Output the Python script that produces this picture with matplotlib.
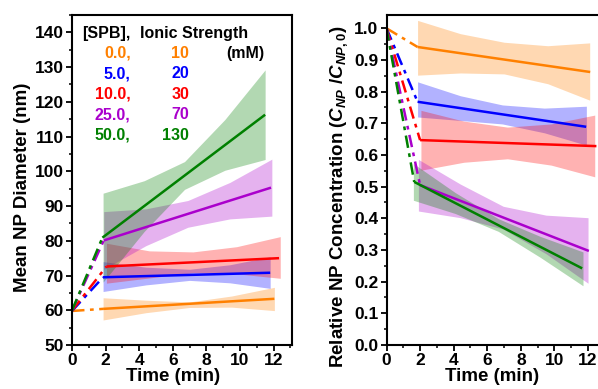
import matplotlib
matplotlib.use("Agg")
import matplotlib.pyplot as plt
from matplotlib.ticker import MultipleLocator

plt.rcParams['font.family'] = ['Liberation Sans', 'DejaVu Sans']
plt.rcParams['font.weight'] = 'bold'
plt.rcParams['axes.labelweight'] = 'bold'
plt.rcParams['mathtext.fontset'] = 'custom'
plt.rcParams['mathtext.rm'] = 'Liberation Sans:bold'
plt.rcParams['mathtext.it'] = 'Liberation Sans:bold:italic'
plt.rcParams['mathtext.bf'] = 'Liberation Sans:bold'

# legend / series info
spb = ['0.0,', '5.0,', '10.0,', '25.0,', '50.0,']
ionic = ['10', '20', '30', '70', '130']
colors = ['#FF8000', '#0000FF', '#FF0000', '#AA00CC', '#008000']

# ---- left panel: mean NP diameter (nm) ----
dia_start = [59.8, 59.8, 59.9, 59.9, 59.9]
dia_fit_t = [[1.85, 12.05], [1.85, 11.8], [2.05, 12.33], [1.89, 11.85], [1.81, 11.5]]
dia_fit_y = [[60.4, 63.3], [69.5, 70.8], [72.6, 75.0], [80.1, 95.3], [80.9, 116.3]]
dia_band_t = [[1.85, 4.4, 7.0, 9.5, 12.05],
              [1.85, 4.4, 7.0, 9.4, 11.8],
              [2.05, 4.6, 7.2, 9.8, 12.4],
              [1.89, 4.4, 6.9, 9.4, 11.9],
              [1.85, 4.3, 6.7, 9.1, 11.5]]
dia_band_lo = [[57.2, 59.3, 60.8, 60.9, 59.9],
               [65.4, 67.3, 68.6, 67.9, 66.3],
               [67.8, 69.3, 70.8, 70.5, 69.2],
               [71.8, 78.6, 83.9, 86.3, 87.1],
               [68.1, 82.7, 94.8, 100.3, 103.4]]
dia_band_hi = [[63.6, 62.9, 62.4, 64.1, 66.6],
               [74.0, 72.4, 71.8, 73.1, 75.4],
               [79.3, 77.1, 76.8, 78.3, 81.2],
               [88.4, 89.2, 91.6, 96.8, 103.5],
               [93.7, 97.3, 102.8, 114.9, 129.2]]

# ---- right panel: relative NP concentration ----
conc_start = [1.0, 1.0, 1.0, 1.0, 1.0]
conc_fit_t = [[1.85, 12.13], [1.85, 11.89], [2.0, 12.5], [2.0, 12.05], [1.65, 11.65]]
conc_fit_y = [[0.941, 0.862], [0.768, 0.689], [0.647, 0.628], [0.505, 0.297], [0.515, 0.242]]
conc_band_t = [[1.85, 4.4, 7.0, 9.6, 12.1],
               [1.85, 4.4, 6.9, 9.4, 11.9],
               [2.05, 4.6, 7.2, 9.8, 12.4],
               [1.9, 4.4, 6.95, 9.5, 12.0],
               [1.6, 4.1, 6.65, 9.15, 11.7]]
conc_band_lo = [[0.852, 0.859, 0.856, 0.825, 0.773],
                [0.720, 0.709, 0.698, 0.670, 0.631],
                [0.552, 0.577, 0.588, 0.568, 0.531],
                [0.423, 0.402, 0.366, 0.288, 0.195],
                [0.457, 0.415, 0.359, 0.277, 0.187]]
conc_band_hi = [[1.025, 0.983, 0.956, 0.945, 0.954],
                [0.831, 0.787, 0.758, 0.748, 0.754],
                [0.741, 0.707, 0.688, 0.698, 0.726],
                [0.586, 0.508, 0.438, 0.410, 0.402],
                [0.573, 0.481, 0.399, 0.343, 0.294]]

W, H = 598, 389
fig = plt.figure(figsize=(W / 100, H / 100), dpi=100)
ax1 = fig.add_axes([72 / W, 1 - 345 / H, 220 / W, 330 / H])
ax2 = fig.add_axes([386.5 / W, 1 - 345 / H, 220 / W, 330 / H])

dashdot = (0, (5, 2.2, 1.5, 2.2))


def draw(ax, start, fit_t, fit_y, band_t, lo, hi):
    for i, c in enumerate(colors):
        ax.fill_between(band_t[i], lo[i], hi[i], color=c, alpha=0.3, lw=0)
    for i, c in enumerate(colors):
        ax.plot([0, fit_t[i][0]], [start[i], fit_y[i][0]], color=c, lw=1.8, ls=dashdot)
        ax.plot(fit_t[i], fit_y[i], color=c, lw=1.8, solid_capstyle='butt')


draw(ax1, dia_start, dia_fit_t, dia_fit_y, dia_band_t, dia_band_lo, dia_band_hi)
draw(ax2, conc_start, conc_fit_t, conc_fit_y, conc_band_t, conc_band_lo, conc_band_hi)

for ax in (ax1, ax2):
    ax.set_xlim(0, 13.1)
    ax.xaxis.set_major_locator(MultipleLocator(2))
    ax.xaxis.set_minor_locator(MultipleLocator(1))
    ax.tick_params(which='major', direction='out', length=4, width=1.3, labelsize=12.5, pad=2)
    ax.tick_params(which='minor', direction='out', length=2.5, width=1.1)
    for s in ax.spines.values():
        s.set_linewidth(1.5)
    ax.set_xlabel('Time (min)', fontsize=13.5)

ax1.set_ylim(50, 145)
ax1.yaxis.set_major_locator(MultipleLocator(10))
ax1.yaxis.set_minor_locator(MultipleLocator(5))
ax1.set_ylabel('Mean NP Diameter (nm)', fontsize=13.5)
ax1.xaxis.set_label_coords(0.46, -0.07)
ax1.yaxis.set_label_coords(-0.185, 0.477)

ax2.set_ylim(0, 1.042)
ax2.yaxis.set_major_locator(MultipleLocator(0.1))
ax2.yaxis.set_minor_locator(MultipleLocator(0.05))
ax2.yaxis.set_major_formatter(plt.FormatStrFormatter('%.1f'))
ax2.set_ylabel(r'Relative NP Concentration ($C_{NP}$ /$C_{NP,0}$)', fontsize=13.5)
ax2.xaxis.set_label_coords(0.48, -0.07)
ax2.yaxis.set_label_coords(-0.165, 0.45)

# legend text block
ax1.text(0.044, 0.9445, '[SPB],', transform=ax1.transAxes, fontsize=11.5, va='center')
ax1.text(0.309, 0.9445, 'Ionic Strength', transform=ax1.transAxes, fontsize=11.5, va='center')
ax1.text(0.703, 0.884, '(mM)', transform=ax1.transAxes, fontsize=11.5, va='center')
rows = [0.884, 0.822, 0.760, 0.698, 0.636]
for i, c in enumerate(colors):
    ax1.text(0.267, rows[i], spb[i], transform=ax1.transAxes, fontsize=11.5,
             va='center', ha='right', color=c)
    ax1.text(0.533, rows[i], ionic[i], transform=ax1.transAxes, fontsize=11.5,
             va='center', ha='right', color=c)

fig.savefig('out.png', dpi=100)
